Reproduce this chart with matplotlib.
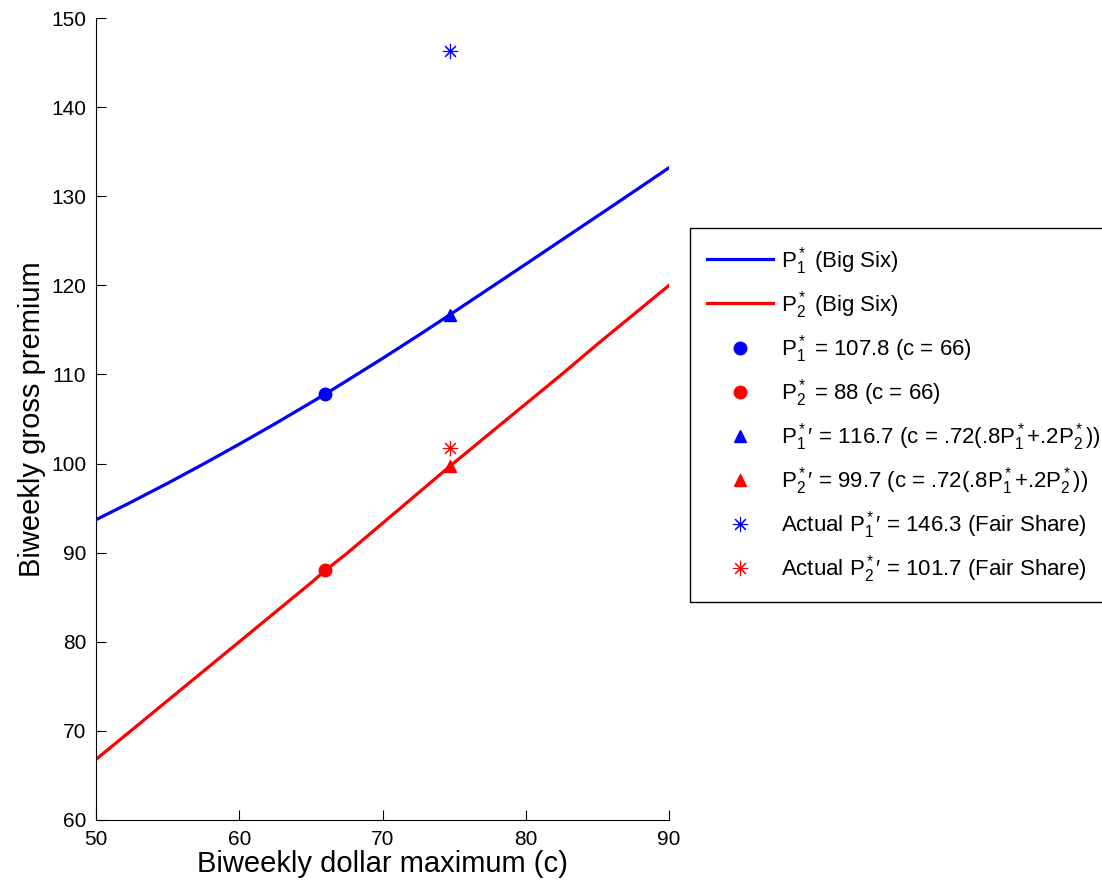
import matplotlib
matplotlib.use("Agg")
import matplotlib.pyplot as plt

plt.rcParams['font.family'] = ['Liberation Sans', 'DejaVu Sans']
plt.rcParams['mathtext.fontset'] = 'custom'
plt.rcParams['mathtext.rm'] = 'Liberation Sans'
plt.rcParams['mathtext.it'] = 'Liberation Sans'

# Big Six premium curves against the biweekly maximum c
c_vals = [50, 52.5, 55, 57.5, 60, 62.5, 65, 66, 67.5, 70, 72.5, 74.7,
          77.5, 80, 82.5, 85, 87.5, 90]
p1_big_six = [93.7, 95.71, 97.79, 99.95, 102.18, 104.47, 106.84, 107.8,
              109.29, 111.8, 114.38, 116.7, 119.7, 122.38, 125.08, 127.77,
              130.48, 133.2]
p2_big_six = [66.8, 70.1, 73.4, 76.7, 80.0, 83.3, 86.6, 88.0, 89.9, 93.3,
              96.7, 99.7, 103.4, 106.7, 110.0, 113.4, 116.7, 120.0]

# Highlighted points
c_base = 66
p1_base, p2_base = 107.8, 88
c_mix = 74.7
p1_mix, p2_mix = 116.7, 99.7
p1_actual, p2_actual = 146.3, 101.7

P1 = r'$\mathregular{P^*_1}$'
P2 = r'$\mathregular{P^*_2}$'
mix = r'(c = .72(.8$\mathregular{P^*_1}$+.2$\mathregular{P^*_2}$))'

fig = plt.figure(figsize=(11.02, 8.84), dpi=100)
ax = fig.add_axes([0.0871, 0.0724, 0.520, 0.9072])

asterisk = (8, 2, 0)
ax.plot(c_vals, p1_big_six, color='#0000ff', lw=2.3, label=P1 + ' (Big Six)')
ax.plot(c_vals, p2_big_six, color='#ff0000', lw=2.3, label=P2 + ' (Big Six)')
ax.plot([c_base], [p1_base], 'o', color='#0000ff', ms=9,
        label=P1 + ' = 107.8 (c = 66)')
ax.plot([c_base], [p2_base], 'o', color='#ff0000', ms=9,
        label=P2 + ' = 88 (c = 66)')
ax.plot([c_mix], [p1_mix], '^', color='#0000ff', ms=9,
        label=P1 + '\u2032 = 116.7 ' + mix)
ax.plot([c_mix], [p2_mix], '^', color='#ff0000', ms=9,
        label=P2 + '\u2032 = 99.7 ' + mix)
ax.plot([c_mix], [p1_actual], linestyle='none', marker=asterisk, color='#0000ff',
        ms=11, mew=0.8, label='Actual ' + P1 + '\u2032 = 146.3 (Fair Share)')
ax.plot([c_mix], [p2_actual], linestyle='none', marker=asterisk, color='#ff0000',
        ms=11, mew=0.8, label='Actual ' + P2 + '\u2032 = 101.7 (Fair Share)')

ax.set_xlim(50, 90)
ax.set_ylim(60, 150)
ax.set_xticks(range(50, 91, 10))
ax.set_yticks(range(60, 151, 10))
ax.spines['top'].set_visible(False)
ax.spines['right'].set_visible(False)
ax.tick_params(direction='in', length=7, labelsize=15)
ax.tick_params(axis='x', pad=7)
ax.tick_params(axis='y', pad=7)
ax.set_xlabel('Biweekly dollar maximum (c)', fontsize=21, labelpad=1)
ax.set_ylabel('Biweekly gross premium', fontsize=21, labelpad=4)

# legend sits outside the axes, to the right
leg = ax.legend(loc='upper left', bbox_to_anchor=(690 / 1102, 1 - 228 / 884),
                bbox_transform=fig.transFigure, borderaxespad=0, fontsize=16,
                frameon=True, fancybox=False, edgecolor='black', framealpha=1,
                handlelength=3.0, labelspacing=0.55, borderpad=0.75,
                handletextpad=0.35, numpoints=1)
leg.get_frame().set_linewidth(1)

fig.savefig('out.png', dpi=100)
